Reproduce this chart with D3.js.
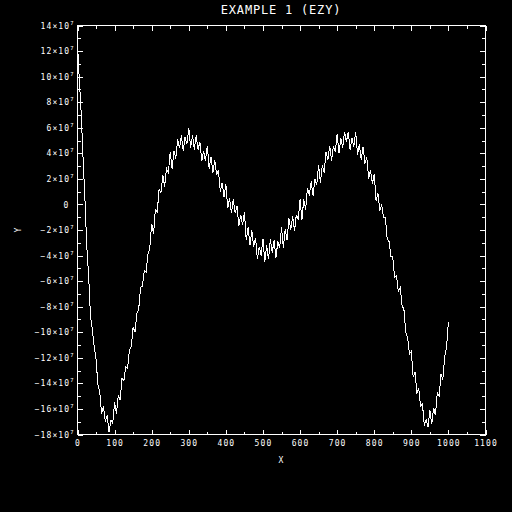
<!DOCTYPE html>
<html><head><meta charset="utf-8">
<script src="https://cdn.jsdelivr.net/npm/d3@7"></script>
<style>html,body{margin:0;padding:0;background:#000;}svg{display:block;background:#000}</style>
</head><body>
<script>
const title = "EXAMPLE 1 (EZY)";
const xLabel = "X";
const yLabel = "Y";
const xMajor = [0,100,200,300,400,500,600,700,800,900,1000,1100];
const xMinor = [50,150,250,350,450,550,650,750,850,950,1050];
const yMajor = [14,12,10,8,6,4,2,0,-2,-4,-6,-8,-10,-12,-14,-16,-18]; // x10^7
const yMinor = [13,11,9,7,5,3,1,-1,-3,-5,-7,-9,-11,-13,-15,-17];
const xValues = d3.range(0, 1001, 5);
const yValues = [
12.6,9.7,7.1,3.6,0.5,-3.3,-5.6,-8.7,-9.8,-11.1,
-12.1,-14.1,-14.7,-16.4,-15.8,-17.0,-16.5,-17.8,-16.9,-17.1,
-15.5,-16.4,-14.9,-15.3,-13.6,-13.8,-12.7,-12.8,-11.4,-11.1,
-9.6,-10.0,-8.5,-8.2,-6.5,-6.4,-5.2,-5.3,-3.9,-3.4,
-1.5,-2.3,-0.4,-0.6,1.2,0.9,2.3,1.4,2.8,2.5,
4.1,2.8,4.2,3.6,5.1,4.4,5.4,4.2,5.3,4.7,
6.0,4.4,5.4,4.3,5.4,4.3,4.9,3.4,4.2,3.4,
4.6,2.8,3.7,2.5,3.5,2.3,2.7,1.0,1.7,0.6,
1.6,-0.3,0.5,-0.7,0.4,-0.7,-0.1,-1.7,-0.8,-1.6,
-0.6,-2.8,-1.8,-3.2,-2.0,-3.3,-2.6,-4.3,-3.3,-4.0,
-2.7,-4.5,-3.2,-4.3,-2.7,-3.8,-2.8,-4.2,-2.9,-3.4,
-1.8,-3.4,-1.9,-2.8,-1.1,-2.0,-0.9,-2.1,-0.8,-1.2,
0.4,-1.2,0.4,-0.4,1.3,0.7,1.8,0.7,2.0,1.5,
3.1,1.7,3.1,2.5,4.1,3.5,4.6,3.4,4.6,4.1,
5.5,4.0,5.2,4.4,5.7,4.9,5.7,4.3,5.2,4.5,
5.7,3.9,4.7,3.5,4.5,3.2,3.7,2.0,2.7,1.6,
2.4,0.3,0.9,-0.5,0.0,-1.0,-1.0,-2.7,-2.9,-4.1,
-4.1,-5.7,-5.6,-6.8,-6.5,-7.9,-8.2,-10.0,-10.4,-11.7,
-11.5,-13.5,-13.1,-14.8,-14.4,-15.8,-15.6,-17.3,-16.8,-17.4,
-16.1,-17.2,-15.9,-16.5,-14.7,-15.0,-13.3,-13.7,-11.9,-11.2,
-9.2
];

const W = 512, H = 512;
const L = 77.5, R = 485.5, T = 25.5, B = 434.5;
const svg = d3.select("body").append("svg").attr("width", W).attr("height", H);
svg.append("rect").attr("width", W).attr("height", H).attr("fill", "#000");

const x = d3.scaleLinear().domain([0, 1100]).range([L, R]);
const y = d3.scaleLinear().domain([-18, 14]).range([B, T]);

const font = "DejaVu Sans Mono, monospace";

// curve
const data = xValues.map((v, i) => [v, yValues[i]]);
svg.append("path").datum(data)
  .attr("fill", "none").attr("stroke", "#fff").attr("stroke-width", 1)
  .attr("shape-rendering", "crispEdges")
  .attr("d", d3.line().x(d => x(d[0])).y(d => y(d[1])));

function styleAxis(g) {
  g.select(".domain").remove();
  g.selectAll("line").attr("stroke", "#fff").attr("shape-rendering", "crispEdges");
  g.selectAll("text").attr("fill", "#fff").attr("font-family", font)
    .attr("font-size", 8).attr("letter-spacing", 1.1);
}

// bottom
svg.append("g").attr("transform", `translate(0,${B})`)
  .call(d3.axisBottom(x).tickValues(xMajor).tickSize(-5).tickPadding(6).tickFormat(d3.format("d")))
  .call(styleAxis);
svg.append("g").attr("transform", `translate(0,${B})`)
  .call(d3.axisBottom(x).tickValues(xMinor).tickSize(-3).tickFormat(""))
  .call(styleAxis);
// top
svg.append("g").attr("transform", `translate(0,${T})`)
  .call(d3.axisTop(x).tickValues(xMajor).tickSize(-5).tickFormat(""))
  .call(styleAxis);
svg.append("g").attr("transform", `translate(0,${T})`)
  .call(d3.axisTop(x).tickValues(xMinor).tickSize(-3).tickFormat(""))
  .call(styleAxis);
// left
const gl = svg.append("g").attr("transform", `translate(${L},0)`)
  .call(d3.axisLeft(y).tickValues(yMajor).tickSize(-5).tickPadding(4).tickFormat(""))
  .call(styleAxis);
svg.append("g").attr("transform", `translate(${L},0)`)
  .call(d3.axisLeft(y).tickValues(yMinor).tickSize(-3).tickFormat(""))
  .call(styleAxis);
// right
svg.append("g").attr("transform", `translate(${R},0)`)
  .call(d3.axisRight(y).tickValues(yMajor).tickSize(-6).tickFormat(""))
  .call(styleAxis);
svg.append("g").attr("transform", `translate(${R},0)`)
  .call(d3.axisRight(y).tickValues(yMinor).tickSize(-4).tickFormat(""))
  .call(styleAxis);

// y labels with exponent
gl.selectAll(".tick text").each(function(d) {
  const t = d3.select(this).text(null);
  if (d === 0) {
    t.attr("dx", -4).text("0");
  } else {
    t.append("tspan").text((d < 0 ? "\u2212" : "") + Math.abs(d) + "\u00d710");
    t.append("tspan").attr("font-size", 5.5).attr("dy", -4).attr("letter-spacing", 0).text("7");
  }
});

// frame
svg.append("rect").attr("x", L).attr("y", T).attr("width", R - L).attr("height", B - T)
  .attr("fill", "none").attr("stroke", "#fff").attr("stroke-width", 1)
  .attr("shape-rendering", "crispEdges");

// title
svg.append("text").attr("x", 281).attr("y", 14).attr("text-anchor", "middle")
  .attr("fill", "#fff").attr("font-family", font).attr("font-size", 12)
  .attr("letter-spacing", 0.8).text(title);
// axis titles
svg.append("text").attr("x", 281).attr("y", 463).attr("text-anchor", "middle")
  .attr("fill", "#fff").attr("font-family", font).attr("font-size", 8).text(xLabel);
svg.append("text").attr("transform", "translate(21,230) rotate(-90)").attr("text-anchor", "middle")
  .attr("fill", "#fff").attr("font-family", font).attr("font-size", 8).text(yLabel);
</script>
</body></html>
